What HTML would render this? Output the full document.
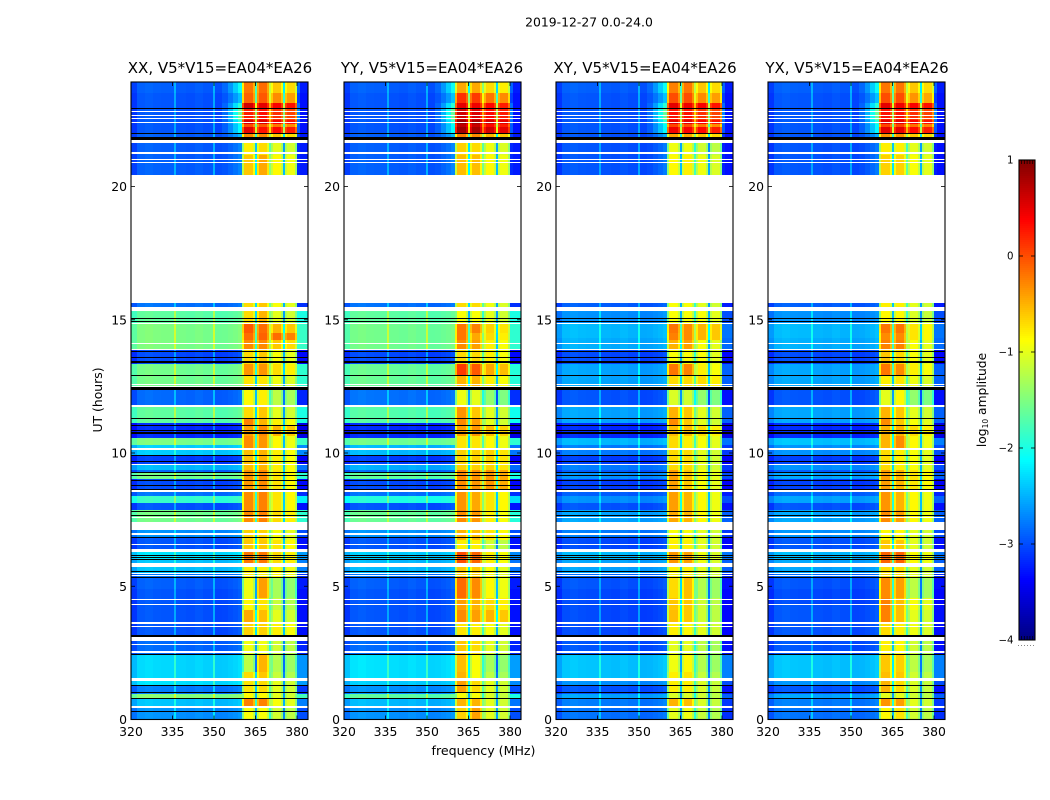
<!DOCTYPE html>
<html>
<head>
<meta charset="utf-8">
<title>2019-12-27 amplitude waterfall</title>
<style>
html,body{margin:0;padding:0;background:#fff;}
#figure{display:block;width:1050px;height:800px;}
text{font-family:"DejaVu Sans","Liberation Sans",sans-serif;fill:#000;}
</style>
</head>
<body>
<svg id="figure" xmlns="http://www.w3.org/2000/svg" width="1050" height="800" viewBox="0 0 1050 800">
  <text x="589" y="26.5" font-size="12.4" text-anchor="middle">2019-12-27 0.0-24.0</text>
  <g id="panel-0">
    <text x="220" y="73" font-size="15" text-anchor="middle">XX, V5*V15=EA04*EA26</text>
  </g>
  <g id="panel-1">
    <text x="432" y="73" font-size="15" text-anchor="middle">YY, V5*V15=EA04*EA26</text>
  </g>
  <g id="panel-2">
    <text x="645" y="73" font-size="15" text-anchor="middle">XY, V5*V15=EA04*EA26</text>
  </g>
  <g id="panel-3">
    <text x="857" y="73" font-size="15" text-anchor="middle">YX, V5*V15=EA04*EA26</text>
  </g>
  <text x="483.5" y="755" font-size="12.6" text-anchor="middle">frequency (MHz)</text>
  <text transform="translate(102,400) rotate(-90)" font-size="12.4" text-anchor="middle">UT (hours)</text>
  <g id="colorbar"></g>
  <text transform="translate(986,400) rotate(-90)" font-size="12.3" text-anchor="middle">log<tspan font-size="7.5" dy="2">10</tspan><tspan dy="-2"> amplitude</tspan></text>
</svg>
<script>
// ---- axis tick data ----
const freqTicks = [320, 335, 350, 365, 380];
const utTicks = [0, 5, 10, 15, 20];
const colorTicks = [1, 0, -1, -2, -3, -4];

// ---- background channels (MHz edges, offsets relative to the time segment level) ----
const bgFreqEdges = [320, 322, 325, 328, 331, 335.7, 336.3, 340, 343, 346, 349.7, 350.3, 353, 355, 357, 358.5, 360.2];
const bgShape = [-0.12, 0.05, 0.08, 0.05, 0.04, 0.45, 0.02, 0.0, 0.04, 0.0, 0.45, -0.04, -0.03, 0.0, 0.03, 0.08];
const fringeShape = [0, 0, 0, 0, 0, 0, 0, 0, 0, 0, 0, 0, 0.15, 0.4, 0.7, 1];
const tailFreqEdges = [380, 381, 384];
const tailFringe = [0.45, 0];

// ---- passband channels: edges, which level array each uses (0=A,1=B,2=C+D), offset ----
const bandFreqEdges = [360.2, 361, 364, 364.9, 365.6, 366.3, 369.2, 370, 370.6, 371.3, 374.2, 375, 375.7, 376.4, 379.3, 380];
const bandGroup = [0, 0, 0, 0, 1, 1, 1, 1, 2, 2, 2, 2, 2, 2, 2];
const bandOffset = [-0.6, 0, -0.3, -1.6, -0.3, 0, -0.3, -1.0, -0.3, 0, -0.3, -1.6, -0.3, -0.1, -0.5];

// ---- background level per time segment (log10 amplitude) ----
const utStart = [0, 0.51, 0.77, 0.95, 1.29, 1.57, 2.46, 3.10, 4.30, 4.90, 5.35, 5.50, 5.98, 6.29, 6.81, 7.42, 7.86, 8.12, 8.39, 8.54, 8.66, 9.02, 9.27, 9.36, 9.59, 9.92, 10.30, 10.56, 11.13, 11.80, 12.48, 13.34, 13.92, 14.30, 14.88, 15.34, 20.43, 21.74, 22.00, 22.23, 22.34, 22.50, 22.96, 23.13, 23.51];
const utEnd = 23.92;
const bgXX = [-2.7, -2.45, -1.5, -2.8, -2.3, -2.35, -2.9, -3.0, -3.0, -2.95, -2.85, -2.45, -2.3, -3.0, -2.7, -1.6, -3.0, -1.9, -2.85, -1.7, -3.05, -1.6, -2.9, -2.5, -3.1, -2.4, -1.55, -3.2, -1.7, -2.9, -1.6, -3.05, -1.55, -1.55, -1.7, -2.85, -2.95, -2.95, -3.0, -3.0, -3.0, -3.0, -3.0, -3.0, -2.95];
const bgYY = [-2.7, -2.5, -1.7, -2.7, -2.4, -2.3, -2.9, -3.0, -3.0, -2.95, -2.85, -2.5, -2.4, -3.0, -2.7, -1.65, -3.0, -2.0, -2.85, -1.8, -3.05, -1.7, -2.9, -2.55, -3.1, -2.5, -1.6, -3.2, -1.75, -2.85, -1.65, -3.05, -1.6, -1.6, -1.7, -2.85, -2.95, -2.95, -3.0, -3.0, -3.0, -3.0, -3.0, -3.0, -2.95];
const bgXY = [-2.85, -2.8, -2.6, -3.0, -2.7, -2.45, -3.0, -3.05, -3.05, -3.0, -2.9, -2.6, -2.5, -3.05, -2.8, -2.6, -3.0, -2.7, -2.95, -2.7, -3.1, -2.7, -2.95, -2.8, -3.1, -2.8, -2.5, -3.2, -2.6, -3.0, -2.6, -3.05, -2.55, -2.5, -2.7, -2.95, -3.0, -3.0, -3.0, -3.0, -3.0, -3.0, -3.0, -3.0, -2.95];
const bgYX = [-2.85, -2.8, -2.6, -3.0, -2.7, -2.45, -3.0, -3.0, -3.05, -3.0, -2.9, -2.6, -2.5, -3.0, -2.7, -2.6, -3.0, -2.6, -2.9, -2.6, -3.1, -2.6, -2.95, -2.7, -3.1, -2.7, -2.45, -3.2, -2.6, -3.0, -2.6, -3.05, -2.55, -2.5, -2.7, -2.95, -3.0, -3.0, -3.0, -3.0, -3.0, -3.0, -3.0, -3.0, -2.95];
const fringe = [0, 0, 0, 0, 0, 0, 0, 0, 0, 0, 0, 0, 0, 0, 0, 0, 0, 0, 0, 0, 0, 0, 0, 0, 0, 0, 0, 0, 0, 0, 0, 0, 0, 0, 0, 0, 0.15, 0.4, 0.8, 0.8, 1.0, 1.3, 1.0, 0.5, 0.8];

// ---- passband level per time segment ----
const bandUt = [0, 0.51, 0.81, 1.03, 1.48, 1.78, 2.46, 2.95, 3.13, 3.62, 4.11, 4.56, 5.31, 5.76, 6.28, 6.73, 7.11, 7.86, 8.54, 9.36, 10.19, 10.64, 11.05, 11.31, 11.73, 12.40, 12.89, 13.34, 13.90, 14.24, 14.50, 14.84, 15.36, 20.43, 21.2, 21.74, 22.0, 22.23, 22.34, 22.50, 22.96, 23.13, 23.51];
const bandA_XX = [-0.9,-0.25,-0.85,-0.75,-0.7,-1.2,-0.95,-0.9,-0.65,-0.45,-0.85,-0.95,-0.8,-0.2,-0.6,-0.65,-0.3,-0.3,-0.35,-0.55,-0.3,-0.4,-0.25,-0.7,-0.85,-0.75,-0.35,-0.7,-0.3,-0.15,-0.05,-0.7,-0.7,-0.6,-0.8,-0.3,0.5,0,0.55,0.25,0.6,-0.1,-0.2];
const bandB_XX = [-0.9,-0.25,-0.85,-0.7,-0.6,-0.5,-0.95,-0.9,-0.65,-0.55,-0.75,-0.4,-0.8,-0.2,-0.6,-0.65,-0.25,-0.25,-0.3,-0.5,-0.35,-0.3,-0.5,-0.6,-0.8,-0.75,-0.35,-0.6,-0.3,-0.1,-0.15,-0.5,-0.6,-0.45,-0.7,-0.3,0.3,-0.05,0.55,0.3,0.5,-0.05,-0.15];
const bandCD_XX = [-1.1,-0.9,-1.0,-1.0,-1.15,-1.25,-1.1,-1.0,-0.8,-1.0,-1.15,-1.3,-0.85,-0.7,-0.75,-0.9,-0.7,-0.75,-0.75,-0.8,-0.85,-0.5,-0.8,-1.0,-1.2,-0.95,-0.7,-0.9,-0.6,-0.15,-0.5,-1.0,-0.9,-0.85,-1.0,-0.6,0.35,-0.2,0.4,0.15,0.4,-0.3,-0.6];
const bandA_YY = [-0.65,-0.5,-0.9,-0.4,-0.5,-0.55,-0.6,-0.7,-0.75,-0.3,-0.4,-0.15,-0.6,0,-0.8,-0.5,-0.3,-0.35,-0.3,-0.65,-0.75,-0.4,-0.3,-0.35,-0.95,-0.5,0.1,-0.7,-0.3,-0.2,-0.2,-0.9,-0.7,-0.55,-0.65,-0.25,0.85,0.7,0.85,0.6,0.5,0.15,-0.45];
const bandB_YY = [-0.4,-0.5,-0.9,-0.7,-0.9,-0.9,-0.7,-0.7,-0.8,-0.4,-0.5,-0.3,-0.6,-0.1,-0.8,-0.55,-0.35,-0.45,-0.35,-0.65,-0.75,-0.35,-0.4,-0.6,-1.0,-0.5,-0.05,-0.7,-0.4,-0.45,-0.25,-0.9,-0.7,-0.55,-0.7,-0.3,0.8,0.65,0.8,0.55,0.45,0.1,-0.45];
const bandCD_YY = [-1.0,-1.0,-1.05,-1.0,-1.2,-1.3,-1.0,-0.9,-0.9,-0.5,-0.7,-0.85,-0.9,-0.8,-1.1,-0.75,-0.8,-0.75,-0.35,-0.65,-0.85,-0.55,-1.0,-1.0,-1.4,-0.8,-0.45,-0.8,-0.8,-0.7,-0.65,-1.0,-0.95,-0.85,-0.95,-0.5,0.6,0.35,0.6,0.35,0.35,-0.2,-0.7];
const bandA_XY = [-1.0,-0.5,-1.05,-0.8,-0.8,-0.95,-1.0,-0.95,-0.8,-0.55,-0.6,-0.7,-0.8,-0.35,-0.8,-0.9,-0.45,-0.4,-0.4,-0.7,-0.7,-0.55,-0.3,-0.5,-1.05,-0.7,-0.2,-0.9,-0.5,-0.25,-0.2,-0.9,-0.9,-0.85,-0.95,-0.45,0.45,0.05,0.5,0.3,0.5,0,-0.25];
const bandB_XY = [-0.95,-0.55,-1.05,-0.8,-0.75,-0.85,-1.0,-0.95,-0.85,-0.6,-0.6,-0.55,-0.8,-0.4,-0.8,-0.9,-0.5,-0.5,-0.6,-0.7,-0.8,-0.55,-0.6,-0.6,-1.1,-0.7,-0.25,-0.9,-0.4,-0.3,-0.3,-0.9,-0.9,-0.8,-0.95,-0.45,0.4,0,0.5,0.3,0.45,0,-0.2];
const bandCD_XY = [-1.15,-1.05,-1.1,-1.05,-1.15,-1.25,-1.2,-1.05,-1.0,-1.1,-1.1,-1.25,-1.0,-0.95,-1.0,-1.0,-0.85,-0.85,-0.9,-1.0,-0.9,-0.7,-1.0,-1.0,-1.4,-0.7,-0.8,-0.9,-0.9,-0.5,-0.5,-0.9,-1.0,-0.95,-1.1,-0.6,0.35,-0.2,0.4,0.15,0.4,-0.3,-0.6];
const bandA_YX = [-0.85,-0.35,-1.0,-0.5,-0.55,-0.6,-0.8,-0.75,-0.7,-0.25,-0.25,-0.3,-0.7,-0.1,-0.6,-0.85,-0.3,-0.35,-0.4,-0.7,-0.5,-0.5,-0.3,-0.5,-1.0,-0.8,-0.2,-0.6,-0.25,-0.3,-0.2,-0.85,-0.8,-0.65,-0.8,-0.35,0.5,0.05,0.5,0.3,0.5,0,-0.2];
const bandB_YX = [-0.75,-0.4,-1.0,-0.7,-0.6,-0.65,-0.85,-0.8,-0.8,-0.55,-0.55,-0.4,-0.7,-0.1,-0.6,-0.85,-0.4,-0.5,-0.5,-0.8,-0.3,-0.5,-0.6,-0.6,-0.85,-0.75,-0.3,-0.7,-0.25,-0.3,-0.2,-0.85,-0.8,-0.65,-0.8,-0.35,0.5,0.05,0.5,0.3,0.45,0,-0.2];
const bandCD_YX = [-1.1,-1.0,-1.1,-1.05,-1.1,-1.2,-1.1,-0.95,-0.95,-1.0,-0.9,-1.2,-1.0,-0.85,-1.0,-1.0,-0.85,-0.85,-0.75,-0.9,-0.85,-0.7,-0.9,-1.0,-1.4,-0.95,-0.8,-0.9,-0.9,-0.75,-0.75,-1.05,-1.0,-0.9,-1.0,-0.6,0.35,-0.15,0.4,0.15,0.4,-0.35,-0.6];

// ---- flagged time ranges (UT hours): no data (white), zero amplitude (black) ----
const blankStart = [0.42, 1.46, 2.50, 2.80, 2.95, 3.46, 3.60, 4.30, 4.50, 5.38, 5.46, 5.73, 6.28, 6.55, 6.92, 7.11, 7.55, 8.54, 9.55, 10.13, 11.73, 12.47, 12.56, 13.88, 14.10, 14.84, 15.34, 15.63, 20.88, 20.98, 21.22, 21.64, 22.40, 22.55, 22.67, 22.80];
const blankEnd = [0.51, 1.57, 2.57, 2.83, 3.10, 3.50, 3.64, 4.35, 4.54, 5.41, 5.49, 5.87, 6.40, 6.59, 6.98, 7.42, 7.58, 8.61, 9.59, 10.17, 11.80, 12.51, 12.59, 13.92, 14.14, 14.88, 15.46, 20.43, 20.92, 21.02, 21.30, 21.74, 22.43, 22.58, 22.70, 22.84];
const blackStart = [0.29, 0.78, 1.01, 1.28, 2.44, 3.11, 5.32, 5.55, 5.98, 6.06, 6.12, 6.80, 7.63, 7.81, 8.63, 8.78, 8.97, 9.16, 9.27, 9.66, 9.88, 10.71, 10.77, 10.85, 11.03, 11.30, 12.38, 12.89, 13.37, 13.41, 13.59, 13.79, 14.94, 15.05, 21.74, 21.99, 22.90];
const blackEnd = [0.33, 0.82, 1.05, 1.31, 2.47, 3.18, 5.35, 5.58, 6.01, 6.09, 6.17, 6.83, 7.66, 7.84, 8.66, 8.81, 9.00, 9.19, 9.30, 9.69, 9.91, 10.75, 10.80, 10.88, 11.06, 11.33, 12.48, 12.92, 13.40, 13.44, 13.62, 13.82, 14.97, 15.08, 21.87, 22.02, 22.96];

const bgSeries = [bgXX, bgYY, bgXY, bgYX];
const bandSeries = [
  [bandA_XX, bandB_XX, bandCD_XX],
  [bandA_YY, bandB_YY, bandCD_YY],
  [bandA_XY, bandB_XY, bandCD_XY],
  [bandA_YX, bandB_YX, bandCD_YX]
];

// ---- layout & scales ----
const SVGNS = 'http://www.w3.org/2000/svg';
const panelLeft = [131, 344, 556, 768];
const panelWidth = 177;
const axisTop = 82;
const axisBottom = 719.5;
const pxPerMHz = 2.767;
const pxPerHour = 26.65;
const cbLeft = 1019, cbRight = 1035, cbTop = 160, cbBottom = 640;

function xScale(p, mhz) { return panelLeft[p] + (mhz - 320) * pxPerMHz; }
function yScale(ut) { return axisBottom - ut * pxPerHour; }
function cScale(v) { return cbBottom - (v + 4) * (cbBottom - cbTop) / 5; }

function jet(v) {
  const t = Math.max(0, Math.min(1, (v + 4) / 5));
  const ch = function (c) { return Math.round(255 * Math.max(0, Math.min(1, c))); };
  const r = 1.5 - Math.abs(4 * t - 3);
  const g = 1.5 - Math.abs(4 * t - 2);
  const b = 1.5 - Math.abs(4 * t - 1);
  return 'rgb(' + ch(r) + ',' + ch(g) + ',' + ch(b) + ')';
}

function makeRect(parent, x0, x1, y0, y1, fill) {
  const el = document.createElementNS(SVGNS, 'rect');
  const left = Math.round(x0), right = Math.round(x1);
  const top = Math.round(y0);
  const bottom = Math.max(top + 1, Math.round(y1));
  el.setAttribute('x', left);
  el.setAttribute('y', top);
  el.setAttribute('width', Math.max(1, right - left));
  el.setAttribute('height', bottom - top);
  el.setAttribute('fill', fill);
  el.setAttribute('shape-rendering', 'crispEdges');
  parent.appendChild(el);
  return el;
}

function makeLine(parent, x1, y1, x2, y2, width) {
  const el = document.createElementNS(SVGNS, 'line');
  el.setAttribute('x1', x1);
  el.setAttribute('y1', y1);
  el.setAttribute('x2', x2);
  el.setAttribute('y2', y2);
  el.setAttribute('stroke', '#000');
  el.setAttribute('stroke-width', width);
  parent.appendChild(el);
  return el;
}

function makeText(parent, x, y, str, anchor, size) {
  const el = document.createElementNS(SVGNS, 'text');
  el.setAttribute('x', x);
  el.setAttribute('y', y);
  el.setAttribute('text-anchor', anchor);
  el.setAttribute('font-size', size);
  el.textContent = str;
  parent.appendChild(el);
  return el;
}

function drawPanel(p) {
  const root = document.getElementById('panel-' + p);
  const heat = document.createElementNS(SVGNS, 'g');
  
  
  root.appendChild(heat);

  const right = panelLeft[p] + panelWidth;
  const bg = bgSeries[p], band = bandSeries[p];

  utStart.forEach(function (start, r) {
    const end = r + 1 < utStart.length ? utStart[r + 1] : utEnd;
    const y0 = yScale(end), y1 = yScale(start);
    for (let c = 0; c < bgShape.length; c++) {
      const v = bg[r] + bgShape[c] + fringeShape[c] * fringe[r];
      const el = makeRect(heat, xScale(p, bgFreqEdges[c]), xScale(p, bgFreqEdges[c + 1]), y0, y1, jet(v));
      
      
    }
    for (let c = 0; c < tailFringe.length; c++) {
      const v = bg[r] - 0.3 + tailFringe[c] * fringe[r];
      const x1 = c === tailFringe.length - 1 ? right : xScale(p, tailFreqEdges[c + 1]);
      const el = makeRect(heat, xScale(p, tailFreqEdges[c]), x1, y0, y1, jet(v));
      
      
    }
  });

  bandUt.forEach(function (start, r) {
    const end = r + 1 < bandUt.length ? bandUt[r + 1] : utEnd;
    const y0 = yScale(end), y1 = yScale(start);
    for (let c = 0; c < bandOffset.length; c++) {
      const v = band[bandGroup[c]][r] + bandOffset[c];
      const el = makeRect(heat, xScale(p, bandFreqEdges[c]), xScale(p, bandFreqEdges[c + 1]), y0, y1, jet(v));
      
      
    }
  });

  blankStart.forEach(function (s, i) {
    const el = makeRect(heat, panelLeft[p], right, yScale(blankEnd[i]), yScale(s), '#fff');
    
    
  });
  blackStart.forEach(function (s, i) {
    const el = makeRect(heat, panelLeft[p], right, yScale(blackEnd[i]), yScale(s), '#000');
    
    
  });

  // frame
  const frame = document.createElementNS(SVGNS, 'rect');
  frame.setAttribute('x', panelLeft[p]);
  frame.setAttribute('y', axisTop);
  frame.setAttribute('width', panelWidth);
  frame.setAttribute('height', axisBottom - axisTop);
  frame.setAttribute('fill', 'none');
  frame.setAttribute('stroke', '#000');
  frame.setAttribute('stroke-width', '1.1');
  
  
  root.appendChild(frame);

  // ticks
  freqTicks.forEach(function (f) {
    const x = xScale(p, f);
    const bottomTick = makeLine(root, x, axisBottom, x, axisBottom - 4, 0.8);
    
    
    const topTick = makeLine(root, x, axisTop, x, axisTop + 4, 0.8);
    
    
    const label = makeText(root, x, 736, String(f), 'middle', 12.4);
    
    
  });
  utTicks.forEach(function (u) {
    const y = yScale(u);
    const leftTick = makeLine(root, panelLeft[p], y, panelLeft[p] + 4, y, 0.8);
    
    
    const rightTick = makeLine(root, right, y, right - 4, y, 0.8);
    
    
    const label = makeText(root, panelLeft[p] - 4, y + 4.5, String(u), 'end', 12.4);
    
    
  });
}

function drawColorbar() {
  const root = document.getElementById('colorbar');
  const steps = 240;
  for (let i = 0; i < steps; i++) {
    const v0 = -4 + 5 * i / steps;
    const v1 = -4 + 5 * (i + 1) / steps;
    const el = makeRect(root, cbLeft, cbRight, cScale(v1), cScale(v0), jet((v0 + v1) / 2));
    
    
  }
  const frame = document.createElementNS(SVGNS, 'rect');
  frame.setAttribute('x', cbLeft);
  frame.setAttribute('y', cbTop);
  frame.setAttribute('width', cbRight - cbLeft);
  frame.setAttribute('height', cbBottom - cbTop);
  frame.setAttribute('fill', 'none');
  frame.setAttribute('stroke', '#000');
  frame.setAttribute('stroke-width', '1.1');
  
  
  root.appendChild(frame);

  colorTicks.forEach(function (v) {
    const y = cScale(v);
    const leftTick = makeLine(root, cbLeft, y, cbLeft + 4, y, 0.8);
    
    
    const rightTick = makeLine(root, cbRight, y, cbRight - 4, y, 0.8);
    
    
    const text = v < 0 ? '\u2212' + Math.abs(v) : String(v);
    const label = makeText(root, 1013.5, y + 3.5, text, 'end', 10.2);
    
    
  });

  // short hash ticks along the top and bottom of the bar, faint dots beneath it
  for (let i = 0; i < 5; i++) {
    const x = cbLeft + 2.5 + i * 2.8;
    const topHash = makeLine(root, x, cbTop, x, cbTop + 4, 0.7);
    
    
    const bottomHash = makeLine(root, x, cbBottom, x, cbBottom - 4, 0.7);
    
    
  }
  for (let i = 0; i < 6; i++) {
    const dot = makeRect(root, 1018 + i * 3, 1019 + i * 3, 645, 646, '#888');
    
    
  }
}

for (let p = 0; p < 4; p++) drawPanel(p);
drawColorbar();
</script>
</body>
</html>
